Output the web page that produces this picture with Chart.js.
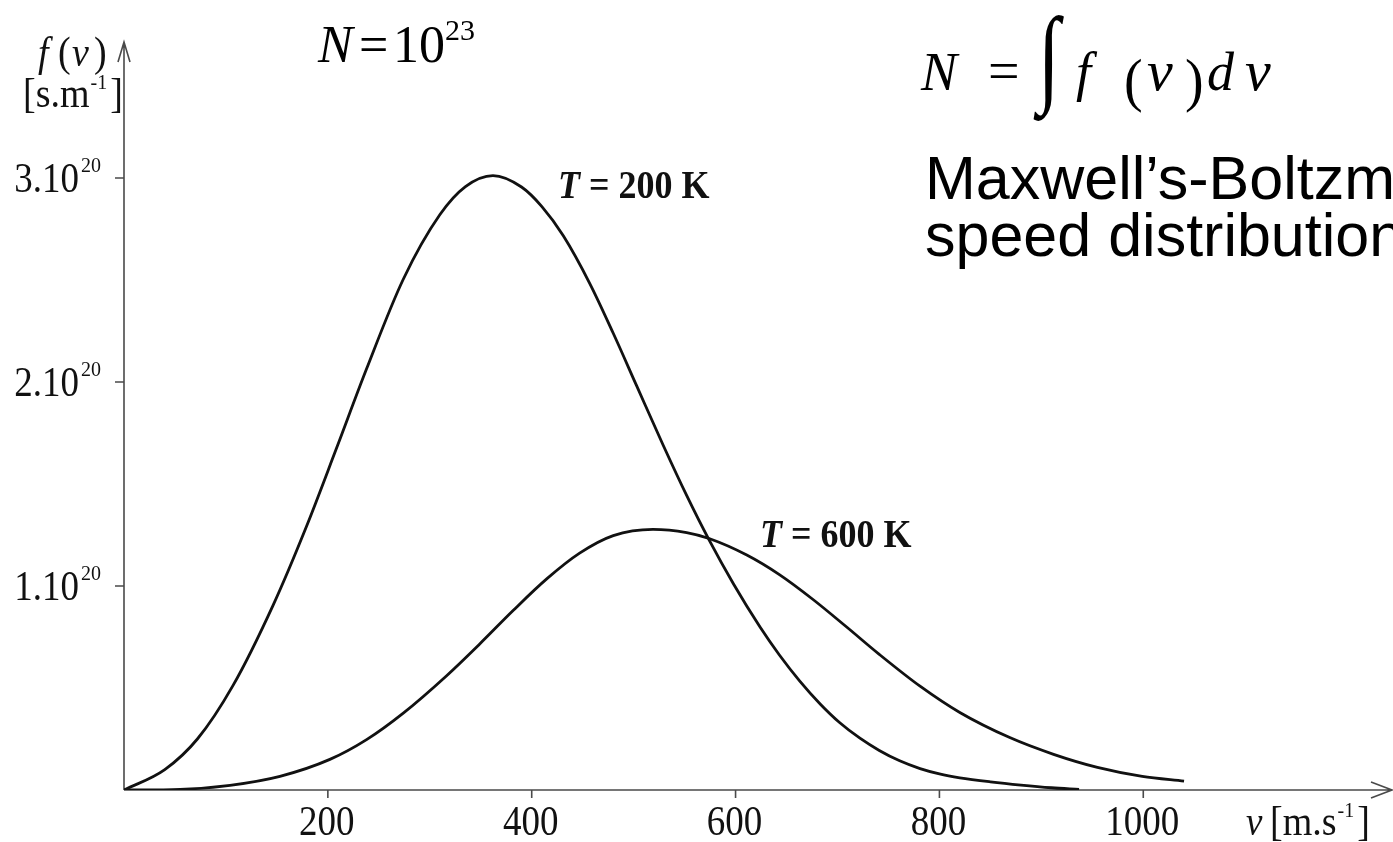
<!DOCTYPE html>
<html>
<head>
<meta charset="utf-8">
<title>Maxwell-Boltzmann speed distribution</title>
<script src="https://cdn.jsdelivr.net/npm/chart.js@4.4.1/dist/chart.umd.min.js"></script>
<style>
  html, body { margin: 0; padding: 0; background: #fff; overflow: hidden; }
  canvas { display: block; }
</style>
</head>
<body>
<canvas id="mbChart" width="1393" height="842"></canvas>
<script>
// speeds in m/s, f(v) in units of 1e20 s/m
const speeds200 = [0, 40, 72, 107, 146, 179, 208, 238, 274, 310, 335, 362, 390, 410, 431, 457, 480, 503, 529, 552, 574, 598, 624, 643, 663, 683, 702, 722, 741, 761, 781, 800, 820, 850, 880, 910, 937];
const density200 = [0, 0.10, 0.25, 0.513, 0.903, 1.292, 1.669, 2.065, 2.504, 2.821, 2.958, 3.012, 2.956, 2.860, 2.717, 2.483, 2.239, 1.981, 1.690, 1.444, 1.226, 1.010, 0.799, 0.662, 0.534, 0.422, 0.331, 0.254, 0.194, 0.143, 0.105, 0.079, 0.060, 0.040, 0.024, 0.011, 0.003];

const speeds600 = [0, 55, 104, 153, 202, 238, 274, 316, 349, 382, 415, 447, 480, 519, 552, 574, 611, 643, 676, 709, 741, 781, 820, 869, 912, 955, 999, 1040];
const density600 = [0, 0.0033, 0.023, 0.067, 0.150, 0.247, 0.377, 0.558, 0.716, 0.881, 1.036, 1.161, 1.247, 1.278, 1.262, 1.233, 1.152, 1.056, 0.934, 0.799, 0.665, 0.509, 0.380, 0.257, 0.175, 0.111, 0.067, 0.044];

const xTicks = [200, 400, 600, 800, 1000];
const yTicks = [1, 2, 3];
const curveLabels = ['200', '600'];

const SERIF = '"Liberation Serif", "Times New Roman", serif';
const SANS = '"Liberation Sans", Arial, sans-serif';

function toPoints(xs, ys) {
    return xs.map((v, i) => ({ x: v, y: ys[i] }));
}

// draw text, a bit taller than wide like the scanned figure
function txt(ctx, str, x, y, font, align, sy) {
    ctx.save();
    ctx.font = font;
    ctx.textAlign = align || 'left';
    ctx.textBaseline = 'alphabetic';
    ctx.translate(x, y);
    ctx.scale(1, sy || 1);
    ctx.fillText(str, 0, 0);
    const w = ctx.measureText(str).width;
    ctx.restore();
    return w;
}

const axesPlugin = {
    id: 'physAxes',
    beforeDatasetsDraw(chart) {
        const ctx = chart.ctx;
        const xs = chart.scales.x, ys = chart.scales.y;
        const x0 = xs.getPixelForValue(0), y0 = ys.getPixelForValue(0);
        const right = chart.chartArea.right, top = chart.chartArea.top;
        ctx.save();
        ctx.strokeStyle = '#4a4a4a';
        ctx.lineWidth = 1.6;
        ctx.beginPath();
        ctx.moveTo(x0, y0); ctx.lineTo(right - 1, y0);
        ctx.moveTo(x0, y0); ctx.lineTo(x0, top);
        // arrow heads
        ctx.moveTo(right - 22, y0 - 8); ctx.lineTo(right - 1, y0); ctx.lineTo(right - 22, y0 + 8);
        ctx.moveTo(x0 - 6, top + 20); ctx.lineTo(x0, top); ctx.lineTo(x0 + 6, top + 20);
        xTicks.forEach(t => {
            const px = xs.getPixelForValue(t);
            ctx.moveTo(px, y0); ctx.lineTo(px, y0 + 8);
        });
        yTicks.forEach(t => {
            const py = ys.getPixelForValue(t);
            ctx.moveTo(x0 - 9, py); ctx.lineTo(x0, py);
        });
        ctx.stroke();
        ctx.restore();
    },
    afterDraw(chart) {
        const ctx = chart.ctx;
        const xs = chart.scales.x, ys = chart.scales.y;
        const y0 = ys.getPixelForValue(0);
        ctx.save();
        ctx.fillStyle = '#111';

        // x tick labels
        xTicks.forEach(t => {
            txt(ctx, String(t), xs.getPixelForValue(t) - 1, y0 + 45, '37px ' + SERIF, 'center', 1.12);
        });
        // y tick labels  n.10^20
        yTicks.forEach(t => {
            const py = ys.getPixelForValue(t);
            txt(ctx, t + '.10', 79, py + 14, '37px ' + SERIF, 'right', 1.12);
            txt(ctx, '20', 81, py - 6, '20px ' + SERIF, 'left', 1.1);
        });

        // y axis title f(v) [s.m-1]
        txt(ctx, 'f', 38, 66, 'italic 38px ' + SERIF, 'left', 1.12);
        txt(ctx, '(', 58, 66, '38px ' + SERIF, 'left', 1.12);
        txt(ctx, 'v', 72, 66, 'italic 38px ' + SERIF, 'left', 1.12);
        txt(ctx, ')', 94, 66, '38px ' + SERIF, 'left', 1.12);
        let w = txt(ctx, '[s.m', 23, 107, '38px ' + SERIF, 'left', 1.12);
        let w2 = txt(ctx, '-1', 23 + w + 1, 89, '20px ' + SERIF, 'left', 1.1);
        txt(ctx, ']', 23 + w + w2 + 4, 107, '38px ' + SERIF, 'left', 1.12);

        // x axis title v [m.s-1]
        txt(ctx, 'v', 1246, y0 + 45, 'italic 37px ' + SERIF, 'left', 1.12);
        w = txt(ctx, '[m.s', 1270, y0 + 45, '38px ' + SERIF, 'left', 1.12);
        w2 = txt(ctx, '-1', 1270 + w + 1, y0 + 27, '20px ' + SERIF, 'left', 1.1);
        txt(ctx, ']', 1270 + w + w2 + 4, y0 + 45, '38px ' + SERIF, 'left', 1.12);

        // curve labels, anchored in data coordinates
        const labelPos = [[425.7, 2.902], [624, 1.191]];
        curveLabels.forEach((k, i) => {
            const px = xs.getPixelForValue(labelPos[i][0]);
            const py = ys.getPixelForValue(labelPos[i][1]);
            const tw = txt(ctx, 'T', px, py, 'italic bold 36px ' + SERIF, 'left', 1.12);
            txt(ctx, ' = ' + k + ' K', px + tw, py, 'bold 36px ' + SERIF, 'left', 1.12);
        });

        // N = 10^23
        ctx.fillStyle = '#000';
        txt(ctx, 'N', 318, 62, 'italic 52px ' + SERIF, 'left', 1);
        txt(ctx, '=', 359, 62, '52px ' + SERIF, 'left', 1);
        txt(ctx, '10', 393, 62, '52px ' + SERIF, 'left', 1);
        txt(ctx, '23', 445, 40, '30px ' + SERIF, 'left', 1);

        // N = ∫ f(v) dv
        txt(ctx, 'N', 921, 90, 'italic 54px ' + SERIF, 'left', 1);
        txt(ctx, '=', 988, 90, '56px ' + SERIF, 'left', 1);
        txt(ctx, '\u222B', 1038, 92, '80px ' + SERIF, 'left', 1.35);
        txt(ctx, 'f', 1076, 90, 'italic 54px ' + SERIF, 'left', 1);
        txt(ctx, '(', 1124, 100, '56px ' + SERIF, 'left', 1.05);
        txt(ctx, 'v', 1147, 90, 'italic 58px ' + SERIF, 'left', 1);
        txt(ctx, ')', 1185, 100, '56px ' + SERIF, 'left', 1.05);
        txt(ctx, 'd', 1207, 90, 'italic 54px ' + SERIF, 'left', 1);
        txt(ctx, 'v', 1245, 90, 'italic 58px ' + SERIF, 'left', 1);

        // title, runs off the right edge as in the slide
        txt(ctx, 'Maxwell\u2019s-Boltzmann', 925, 199, '61px ' + SANS, 'left', 1);
        txt(ctx, 'speed distribution', 925, 256, '61px ' + SANS, 'left', 1);
        ctx.restore();
    }
};

const mbCtx = document.getElementById('mbChart').getContext('2d');
const mbChart = new Chart(mbCtx, {
    type: 'line',
    data: {
        datasets: [{
            label: 'T = 200 K',
            data: toPoints(speeds200, density200),
            borderColor: '#111',
            borderWidth: 2.8,
            pointRadius: 0,
            fill: false,
            cubicInterpolationMode: 'monotone'
        }, {
            label: 'T = 600 K',
            data: toPoints(speeds600, density600),
            borderColor: '#111',
            borderWidth: 2.8,
            pointRadius: 0,
            fill: false,
            cubicInterpolationMode: 'monotone'
        }]
    },
    options: {
        responsive: false,
        animation: false,
        layout: { padding: { left: 124, top: 42, right: 0, bottom: 52 } },
        plugins: {
            legend: { display: false },
            tooltip: { enabled: false }
        },
        scales: {
            x: { type: 'linear', min: 0, max: 1245, display: false },
            y: { type: 'linear', min: 0, max: 3.667, display: false }
        }
    },
    plugins: [axesPlugin]
});
</script>
</body>
</html>
